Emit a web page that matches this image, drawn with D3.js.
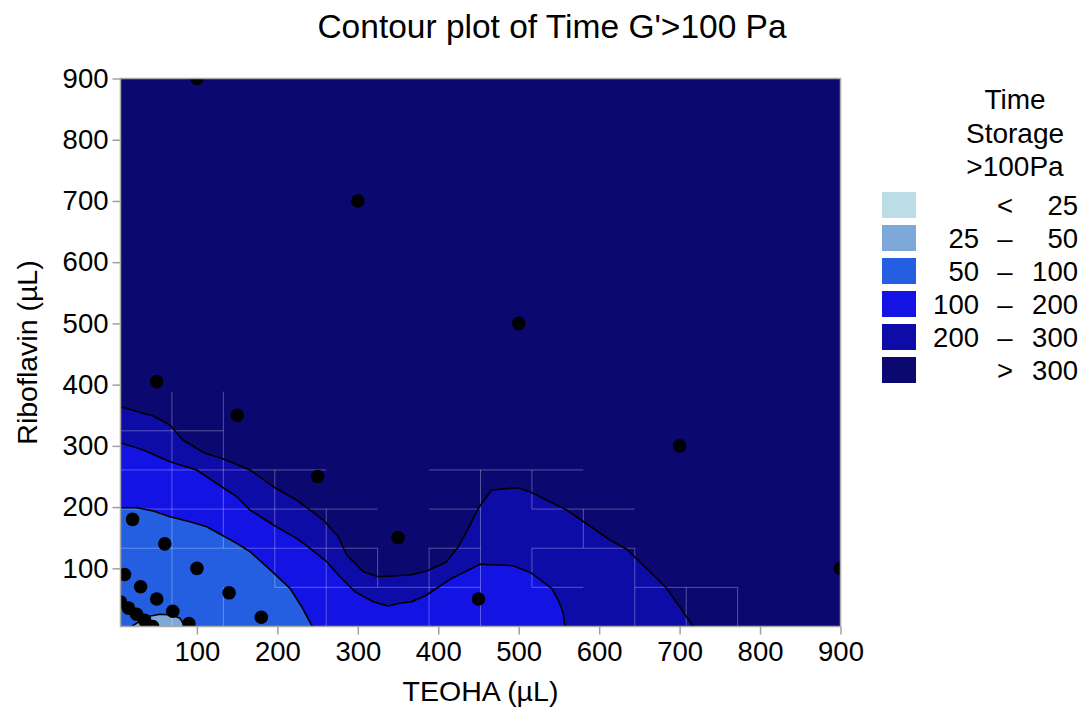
<!DOCTYPE html>
<html><head><meta charset="utf-8">
<script src="https://cdn.jsdelivr.net/npm/d3@7"></script>
<style>
body{margin:0;background:#fff}
text{font-family:"Liberation Sans",Arial,sans-serif;fill:#000}
</style>
</head><body>
<svg id="chart" width="1085" height="711"></svg>
<script>
// ---------- data ----------
const xTickValues = [100,200,300,400,500,600,700,800,900];
const yTickValues = [100,200,300,400,500,600,700,800,900];
const xDomain = [5, 900];
const yDomain = [5, 900];

// design points
const pointX = [100,300,50,150,500,250,700,350,900,450, 20,60,100,140,180, 10,30,50,70,90, 5,15,25,35,45];
const pointY = [900,700,405,350,500,250,300,150,100,50, 180,140,100,60,20, 90,70,50,30,10, 45,35,25,15,5];

// contour level 300 (boundary between 200–300 and >300)
const c300X = [5,45.8,66.5,82.3,110,130.8,166,194.9,224,257.1,275.7,286.2,306.8,325.5,364.9,385.6,409.6,423.7,435.3,451,466.4,498.2,514,559.6,613.5,634.2,667.3,683.9,717];
const c300Y = [364,348.8,334.1,309.6,287.9,279.7,260.6,233.3,211.6,178.9,151.7,121.8,94.5,86.3,89.1,95.6,109.9,132.7,159.8,200.7,227.9,231.7,225.2,195.3,146.3,131.1,89.1,67.4,5];
// contour level 200
const c200X = [5,33.3,66.5,99.7,130.8,149.4,166,194.9,224,240.6,261.3,277.9,296.5,319.2,337.9,352.4,367,385.6,414.6,451.9,493.3,516.1,541,549.2,555.4,557.5];
const c200Y = [305.2,293.3,274.2,260.6,233.3,217,195.3,170.8,149,132.7,110.8,86.3,61.8,45.5,38.5,42.9,45.5,56.4,82.1,106.6,104.3,91.9,67.4,48.3,26.6,5];
// contour level 100
const c100X = [5,25.1,45.8,66.5,91.4,112.2,130.8,149.4,166,194.9,215.7,230.2,243.4];
const c100Y = [199,199,193.6,184.3,176.2,168,154.4,140.9,127.2,92.9,67.4,37.3,5];
// contour level 50
const c50X = [18.9,37.6,54.1,68.6,79,85.2];
const c50Y = [5,21,24.9,23.8,18.4,5];

// legend
const legendTitle = ["Time","Storage",">100Pa"];
const legendLow  = ["","25","50","100","200",""];
const legendSym  = ["<","–","–","–","–",">"];
const legendHigh = ["25","50","100","200","300","300"];
const levelColors = ["#bcdce6","#7ea8d8","#235fe0","#1313e3","#0d0ca6","#0b0870"];

// faint rendering seams on the 14x14 interpolation grid (grid indices)
const gridCells = 14;
const seamV = [[1,0,6],[2,0,1],[2,2,6],[3,1,4],[4,0,3],[5,1,2],[6,0,2],[7,0,4],[8,1,2],[8,3,4],[9,2,3],[10,0,2],[11,0,1],[12,0,1]];
const seamH = [[5,0,2],[4,0,4],[4,6,9],[3,0,5],[3,6,7],[3,8,10],[2,0,5],[2,6,7],[2,8,10],[1,3,7],[1,8,9],[1,10,12]];

// ---------- drawing ----------
const svg = d3.select("#chart");
const L = 120.5, R = 840.5, T = 78.5, B = 626.5;
const x = d3.scaleLinear().domain(xDomain).range([L, R]);
const y = d3.scaleLinear().domain(yDomain).range([B, T]);

svg.append("defs").append("clipPath").attr("id","plotclip")
  .append("rect").attr("x",L).attr("y",T).attr("width",R-L).attr("height",B-T);

const plot = svg.append("g").attr("clip-path","url(#plotclip)");

// background (> 300)
plot.append("rect").attr("x",x(xDomain[0])).attr("y",y(yDomain[1]))
  .attr("width",x(xDomain[1])-x(xDomain[0])).attr("height",y(yDomain[0])-y(yDomain[1]))
  .attr("fill",levelColors[5]);

const toPts = (xs, ys) => xs.map((v,i)=>[v, ys[i]]);
const line = d3.line().x(d=>x(d[0])).y(d=>y(d[1]));

function fillBelow(xs, ys, color){
  const pts = toPts(xs, ys);
  pts.push([xDomain[0]-20, yDomain[0]-20]);
  pts.push([xDomain[0]-20, ys[0]]);
  plot.append("path").attr("d", line(pts)+"Z").attr("fill", color);
}
fillBelow(c300X, c300Y, levelColors[4]);
fillBelow(c200X, c200Y, levelColors[3]);
fillBelow(c100X, c100Y, levelColors[2]);
// small 25–50 island
plot.append("path").attr("d", line(toPts(c50X,c50Y))+"Z").attr("fill", levelColors[1]);

// seams
const cell = (xDomain[1]-xDomain[0])/gridCells;
const cellY = (yDomain[1]-yDomain[0])/gridCells;
const seams = plot.append("g").attr("stroke","rgba(255,255,255,0.3)").attr("stroke-width",1);
seamV.forEach(s=>{
  seams.append("line")
    .attr("x1",x(xDomain[0]+s[0]*cell)).attr("x2",x(xDomain[0]+s[0]*cell))
    .attr("y1",y(yDomain[0]+s[1]*cellY)).attr("y2",y(yDomain[0]+s[2]*cellY));
});
seamH.forEach(s=>{
  seams.append("line")
    .attr("y1",y(yDomain[0]+s[0]*cellY)).attr("y2",y(yDomain[0]+s[0]*cellY))
    .attr("x1",x(xDomain[0]+s[1]*cell)).attr("x2",x(xDomain[0]+s[2]*cell));
});

// contour lines
[[c300X,c300Y],[c200X,c200Y],[c100X,c100Y],[c50X,c50Y]].forEach(([xs,ys])=>{
  plot.append("path").attr("d", line(toPts(xs,ys))).attr("fill","none")
    .attr("stroke","#000").attr("stroke-width",1.6).attr("stroke-linejoin","round");
});

// points
plot.append("g").selectAll("circle").data(pointX.map((v,i)=>[v,pointY[i]])).join("circle")
  .attr("cx",d=>x(d[0])).attr("cy",d=>y(d[1])).attr("r",6.8).attr("fill","#000");

// frame
svg.append("rect").attr("x",L).attr("y",T).attr("width",R-L).attr("height",B-T)
  .attr("fill","none").attr("stroke","#a8a8a8").attr("stroke-width",1.5);

// axes
const fs = 27.5;
const xAxis = svg.append("g").attr("transform",`translate(0,${B})`)
  .call(d3.axisBottom(x).tickValues(xTickValues).tickSize(8).tickPadding(7).tickSizeOuter(0));
const yAxis = svg.append("g").attr("transform",`translate(${L},0)`)
  .call(d3.axisLeft(y).tickValues(yTickValues).tickSize(8).tickPadding(4).tickSizeOuter(0));
[xAxis,yAxis].forEach(a=>{
  a.select(".domain").remove();
  a.selectAll(".tick line").attr("stroke","#a0a0a0").attr("stroke-width",1.5);
  a.selectAll(".tick text").attr("font-size",fs).attr("font-family","Liberation Sans, Arial, sans-serif").attr("fill","#000");
});

// titles
svg.append("text").attr("x",552).attr("y",38).attr("text-anchor","middle")
  .attr("font-size",33.5).text("Contour plot of Time G'>100 Pa");
svg.append("text").attr("x",(L+R)/2).attr("y",701).attr("text-anchor","middle")
  .attr("font-size",28.5).text("TEOHA (µL)");
svg.append("text").attr("transform",`translate(37,${(T+B)/2}) rotate(-90)`).attr("text-anchor","middle")
  .attr("font-size",28.5).text("Riboflavin (µL)");

// legend
const lg = svg.append("g");
legendTitle.forEach((t,i)=>{
  lg.append("text").attr("x",1015).attr("y",109+i*33.5).attr("text-anchor","middle")
    .attr("font-size",28).text(t);
});
levelColors.forEach((c,i)=>{
  const yy = 192 + i*33;
  lg.append("rect").attr("x",882).attr("y",yy).attr("width",34).attr("height",26).attr("fill",c);
  lg.append("text").attr("x",979).attr("y",yy+23).attr("text-anchor","end").attr("font-size",fs).text(legendLow[i]);
  lg.append("text").attr("x",1005).attr("y",yy+23).attr("text-anchor","middle").attr("font-size",fs).text(legendSym[i]);
  lg.append("text").attr("x",1078).attr("y",yy+23).attr("text-anchor","end").attr("font-size",fs).text(legendHigh[i]);
});
</script>
</body></html>
